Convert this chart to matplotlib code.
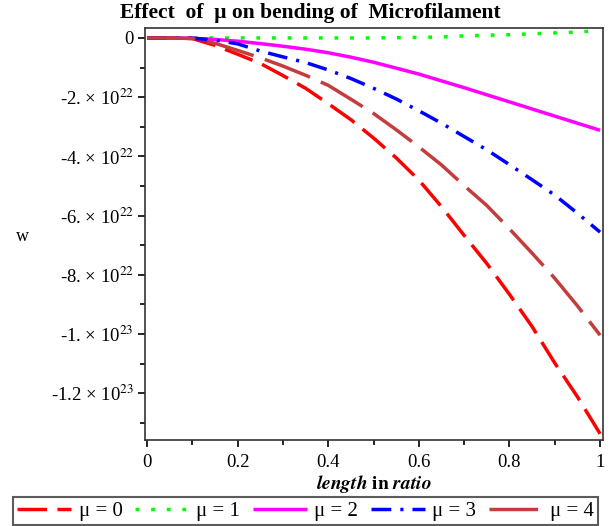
import matplotlib
matplotlib.use("Agg")
import matplotlib.pyplot as plt
from matplotlib.ticker import MultipleLocator

plt.rcParams['font.family'] = ['Liberation Serif', 'DejaVu Serif']
plt.rcParams['mathtext.fontset'] = 'stix'

# =========================
# DATA  (w values in units of 1e22)
# =========================
length = [0.0, 0.05, 0.1, 0.15, 0.2, 0.25, 0.3, 0.35, 0.4, 0.45, 0.5,
          0.55, 0.6, 0.65, 0.7, 0.75, 0.8, 0.85, 0.9, 0.95, 1.0]

w_mu0 = [0, 0, -0.02, -0.25, -0.55, -0.86, -1.27, -1.70, -2.22, -2.76, -3.38,
         -4.05, -4.80, -5.70, -6.67, -7.62, -8.66, -9.75, -10.98, -12.12, -13.37]
w_mu1 = [0, 0, 0, 0, 0, 0, 0, 0, 0, 0, 0,
         0.01, 0.02, 0.03, 0.07, 0.09, 0.11, 0.14, 0.17, 0.20, 0.25]
w_mu2 = [0, 0, -0.01, -0.05, -0.11, -0.19, -0.28, -0.38, -0.50, -0.65, -0.82,
         -1.02, -1.22, -1.45, -1.68, -1.92, -2.16, -2.40, -2.64, -2.88, -3.12]
w_mu3 = [0, 0, -0.01, -0.07, -0.20, -0.44, -0.64, -0.83, -1.08, -1.37, -1.70,
         -2.06, -2.46, -2.88, -3.33, -3.78, -4.28, -4.79, -5.31, -5.92, -6.56]
w_mu4 = [0, 0, -0.02, -0.18, -0.42, -0.67, -0.95, -1.26, -1.60, -2.07, -2.55,
         -3.10, -3.68, -4.29, -4.99, -5.66, -6.45, -7.27, -8.12, -9.05, -10.04]

series = [w_mu0, w_mu1, w_mu2, w_mu3, w_mu4]
labels = ["μ = 0", "μ = 1", "μ = 2", "μ = 3", "μ = 4"]
colors = ["#FF0000", "#00FF00", "#FF00FF", "#0000FF", "#C43C3C"]
dashes = [(8.5, 3.0), (1.1, 3.4), (), (5.7, 2.6, 0.9, 2.6), (14, 3.4)]

yticks = [0, -2e22, -4e22, -6e22, -8e22, -1e23, -1.2e23]
ytick_labels = ["0", r"-2. × 10$^{22}$", r"-4. × 10$^{22}$",
                r"-6. × 10$^{22}$", r"-8. × 10$^{22}$",
                r"-1. × 10$^{23}$", r"-1.2 × 10$^{23}$"]
xticks = [0, 0.2, 0.4, 0.6, 0.8, 1.0]
xtick_labels = ["0", "0.2", "0.4", "0.6", "0.8", "1"]

# =========================
# PLOT
# =========================
fig = plt.figure(figsize=(6.11, 5.26), dpi=100)
ax = fig.add_axes([0.2373, 0.163, 0.7497, 0.784])

for w, lab, col, d in zip(series, labels, colors, dashes):
    yy = [v * 1e22 for v in w]
    line, = ax.plot(length, yy, color=col, lw=2.5, label=lab,
                    solid_capstyle='butt', dash_capstyle='butt')
    if d:
        line.set_dashes(d)

ax.set_xlim(-0.0044, 1.0066)
ax.set_ylim(-1.359e23, 0.34e22)

ax.set_xticks(xticks)
ax.set_xticklabels(xtick_labels)
ax.set_yticks(yticks)
ax.set_yticklabels(ytick_labels)
ax.xaxis.set_minor_locator(MultipleLocator(0.1))
ax.yaxis.set_minor_locator(MultipleLocator(1e22))
ax.tick_params(which='major', length=5, width=1.2, labelsize=13.5, pad=5)
ax.tick_params(axis='y', which='major', pad=3)
ax.tick_params(which='minor', length=3.5, width=1.2)
for s in ax.spines.values():
    s.set_linewidth(1.2)
    s.set_color('#333333')

fig.text(310 / 611, 1 - 13 / 526, "Effect  of  μ on bending of  Microfilament",
         fontsize=15.5, fontweight='bold', ha='center', va='center')
ax.set_xlabel(r"$\mathbfit{length}$ $\mathbf{in}$ $\mathbfit{ratio}$",
              fontsize=14, labelpad=1)
fig.text(22 / 611, 1 - 236 / 526, "w", fontsize=13, ha='center', va='center')

leg = fig.legend(loc='lower left', bbox_to_anchor=(13 / 611, 1 / 526), ncol=5,
                 fontsize=15, frameon=True, fancybox=False, handlelength=2.6,
                 handletextpad=0.35, columnspacing=0.6, borderpad=0.2,
                 borderaxespad=0)
leg.get_frame().set_edgecolor('#333333')
leg.get_frame().set_linewidth(1.5)

fig.savefig("out.png", dpi=100)
